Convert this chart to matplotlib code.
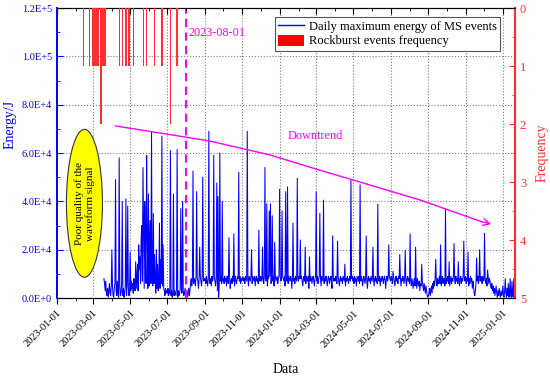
import numpy as np
import pandas as pd
import matplotlib
matplotlib.use("Agg")
import matplotlib.pyplot as plt
import matplotlib.dates as mdates
from matplotlib.patches import Ellipse, Patch
from matplotlib.lines import Line2D
from matplotlib.ticker import MultipleLocator, FuncFormatter

plt.rcParams['font.family'] = ['Liberation Serif', 'DejaVu Serif']

# daily maximum MS energy, kJ (baseline per day, one line per month)
energy_start = "2023-03-19"
energy_kj = [
    8, 6, 3, 7, 2, 1, 4, 0.3, 3, 6, 2, 1, 5,
    2, 5, 1, 0.3, 4, 6, 2, 3, 1, 7, 2, 0.3, 3, 5, 1, 2, 6, 3, 1, 4, 0.3, 2, 5, 3, 1, 6, 2, 4, 1, 3,
    5, 3, 7, 4, 6, 2, 8, 5, 3, 6, 4, 9, 5, 3, 7, 12, 8, 6, 10, 5, 7, 9, 6, 4, 8, 11, 6, 5, 7, 4, 6,
    5, 7, 4, 6, 3, 8, 5, 4, 6, 3, 7, 2, 5, 4, 6, 3, 5, 8, 4, 2, 6, 3, 5, 2, 4, 3, 1, 4, 2, 3,
    2, 4, 1, 3, 2, 5, 1, 3, 0.3, 2, 4, 1, 3, 2, 1, 4, 2, 0.3, 3, 1, 2, 4, 1, 3, 2, 0.3, 3, 1, 2, 4, 2,
    1, 3, 0.3, 2, 4, 1, 3, 6, 8, 5, 7, 9, 6, 8, 7, 5, 9, 6, 8, 7, 4, 8, 6, 9, 7, 5, 8, 6, 9, 7, 8,
    8, 6, 9, 7, 5, 8, 9, 7, 6, 8, 5, 9, 7, 8, 6, 9, 7, 5, 8, 6, 3, 1, 0.3, 6, 8, 7, 9, 6, 8, 7,
    8, 6, 9, 7, 8, 5, 9, 7, 6, 8, 9, 4, 7, 8, 6, 9, 7, 8, 5, 9, 8, 6, 7, 9, 8, 5, 7, 9, 6, 8, 7,
    8, 9, 7, 8, 6, 9, 8, 7, 9, 8, 5, 9, 8, 7, 9, 8, 6, 9, 8, 7, 9, 5, 8, 9, 7, 8, 6, 9, 8, 7,
    9, 8, 7, 9, 8, 6, 9, 8, 9, 7, 8, 5, 9, 8, 7, 9, 8, 6, 9, 8, 7, 9, 5, 8, 9, 7, 8, 9, 6, 8, 9,
    8, 9, 7, 8, 6, 9, 8, 7, 9, 5, 8, 9, 7, 8, 6, 9, 8, 7, 9, 8, 4, 8, 9, 7, 8, 6, 9, 8, 7, 9, 8,
    7, 9, 8, 6, 8, 9, 7, 5, 8, 9, 7, 8, 6, 9, 8, 7, 9, 4, 8, 7, 9, 8, 6, 8, 9, 7, 5, 8, 9,
    8, 7, 9, 6, 8, 9, 7, 8, 5, 9, 8, 7, 9, 6, 8, 7, 9, 8, 5, 7, 9, 8, 6, 8, 9, 7, 4, 8, 9, 7, 8,
    7, 9, 8, 6, 8, 9, 7, 5, 8, 9, 7, 8, 6, 9, 8, 7, 9, 5, 8, 7, 9, 8, 6, 8, 9, 7, 5, 8, 9, 7,
    8, 6, 9, 7, 8, 5, 9, 8, 7, 9, 6, 8, 7, 9, 8, 5, 7, 9, 8, 6, 8, 9, 7, 4, 8, 9, 7, 8, 6, 9, 8,
    7, 9, 8, 5, 8, 9, 7, 8, 6, 9, 8, 7, 9, 5, 8, 7, 9, 8, 6, 8, 9, 7, 4, 8, 9, 7, 8, 6, 9, 8,
    7, 9, 8, 6, 8, 9, 7, 5, 8, 9, 7, 8, 6, 9, 8, 7, 9, 5, 8, 7, 9, 8, 6, 8, 9, 7, 5, 8, 9, 7, 8,
    6, 8, 7, 5, 8, 6, 4, 7, 8, 5, 6, 7, 4, 8, 6, 5, 7, 3, 6, 5, 4, 7, 5, 3, 6, 4, 2, 5, 3, 1, 0.3,
    1, 2, 4, 1, 3, 5, 2, 6, 4, 7, 5, 8, 6, 7, 5, 8, 6, 7, 9, 6, 8, 5, 7, 9, 6, 8, 7, 5, 8, 6,
    8, 7, 9, 6, 8, 5, 7, 9, 6, 8, 7, 9, 5, 8, 6, 9, 7, 8, 6, 9, 7, 5, 8, 9, 6, 8, 7, 9, 6, 8, 7,
    9, 6, 8, 7, 9, 5, 8, 6, 9, 7, 8, 4, 7, 5, 2, 1, 3, 6, 8, 7, 9, 6, 8, 10, 7, 9, 8, 6, 9, 8,
    7, 9, 8, 6, 8, 5, 7, 9, 6, 8, 7, 5, 4, 6, 3, 5, 2, 4, 1, 3, 5, 2, 0.3, 3, 1, 4, 2, 0.3, 3, 1, 2,
    5, 1, 0.3, 3, 8, 2, 0.3, 4, 1, 6, 0.3, 2, 8, 1, 0.3, 7, 2, 0.3, 8,
]

# peaks, kJ
spike_dates = [
    "2023-04-01", "2023-04-07", "2023-04-13", "2023-04-18", "2023-04-24", "2023-04-27",
    "2023-05-01", "2023-05-10", "2023-05-13", "2023-05-15", "2023-05-17", "2023-05-19",
    "2023-05-20", "2023-05-22", "2023-05-23", "2023-05-25", "2023-05-26", "2023-05-28",
    "2023-05-29", "2023-05-31", "2023-06-02", "2023-06-03", "2023-06-05", "2023-06-08",
    "2023-06-10", "2023-06-13", "2023-06-15", "2023-06-18", "2023-06-20", "2023-06-22",
    "2023-06-24", "2023-07-06", "2023-07-11", "2023-07-17", "2023-07-23", "2023-07-26",
    "2023-08-12", "2023-08-18", "2023-08-23", "2023-08-28", "2023-09-07", "2023-09-15",
    "2023-09-20", "2023-09-22", "2023-09-25", "2023-09-29", "2023-10-10", "2023-10-18",
    "2023-10-26", "2023-11-09", "2023-11-16", "2023-11-28", "2023-12-04", "2023-12-08",
    "2023-12-11", "2023-12-15", "2023-12-17", "2023-12-20", "2023-12-24",
    "2024-01-01", "2024-01-05", "2024-01-11", "2024-01-14", "2024-01-23", "2024-01-30",
    "2024-02-04", "2024-02-12", "2024-02-19", "2024-03-01", "2024-03-07", "2024-03-13",
    "2024-03-28", "2024-04-05", "2024-04-17", "2024-04-27", "2024-05-12", "2024-05-22",
    "2024-06-02", "2024-06-10", "2024-06-28", "2024-07-05", "2024-07-16", "2024-07-25",
    "2024-08-02", "2024-08-11", "2024-08-21", "2024-09-13", "2024-09-21", "2024-09-29",
    "2024-10-05", "2024-10-13", "2024-10-20", "2024-10-29", "2024-11-05", "2024-11-19",
    "2024-11-24", "2024-12-02", "2024-12-07",
]
spike_kj = [
    20, 49, 58, 40, 41, 38,
    19, 15, 14, 22, 17, 25,
    30, 54, 28, 40, 18, 59,
    26, 43, 24, 32, 69, 35,
    18, 20, 14, 31, 16, 67,
    22, 61, 43, 61.5, 37, 40,
    52.5, 44, 21, 50, 69, 59,
    47.6, 42, 60, 40, 25, 26.5,
    52, 69, 20, 28, 21, 54,
    39, 36, 39, 34, 23,
    45, 36, 44, 46, 31, 49.5,
    24, 21, 17, 44, 35, 40.5,
    25.7, 23.5, 14, 48.8, 46.8, 25.7,
    21, 38.8, 22, 11, 18, 19.7,
    26.5, 21, 14, 16, 22, 37,
    15, 22.5, 15, 23.5, 19, 16.5,
    20, 26.8, 11.6,
]

# rockburst events
burst_dates = [
    "2023-02-14", "2023-02-23",
    "2023-03-01", "2023-03-02", "2023-03-03", "2023-03-04", "2023-03-05",
    "2023-03-06", "2023-03-07", "2023-03-08", "2023-03-09",
    "2023-03-14", "2023-03-15", "2023-03-16", "2023-03-17", "2023-03-18",
    "2023-03-19", "2023-03-20", "2023-03-21", "2023-03-22",
    "2023-04-13", "2023-04-18", "2023-04-24", "2023-04-29", "2023-05-06",
    "2023-05-23", "2023-05-28", "2023-06-10", "2023-06-22", "2023-07-06", "2023-07-17",
]
burst_freq = [
    1, 1,
    1, 1, 1, 1, 1, 1, 1, 1, 1,
    2, 1, 1, 1, 1, 1, 1, 1, 1,
    1, 1, 1, 1, 1,
    1, 1, 1, 1, 2, 1,
]

# downtrend guide
trend_dates = ["2023-04-07", "2023-09-08", "2023-12-16", "2024-02-28",
               "2024-08-18", "2024-11-27", "2024-12-13"]
trend_kj = [71.2, 65.0, 59.2, 53.5, 40.6, 31.6, 30.6]

BLUE = '#0000ff'
RED = '#ff3030'
MAG = '#ff00ff'

energy = pd.Series(np.array(energy_kj, dtype=float) * 1000,
                   index=pd.date_range(energy_start, periods=len(energy_kj)))
energy.loc[pd.to_datetime(spike_dates)] = np.array(spike_kj) * 1000


def sci_fmt(v, pos):
    if v == 0:
        return '0.0E+0'
    e = int(np.floor(np.log10(abs(v)) + 1e-9))
    return f'{v / 10**e:.1f}E+{e}'


fig = plt.figure(figsize=(5.5, 3.81), dpi=100)
ax = fig.add_axes([0.1036, 0.2178, 0.8328, 0.7612])

ax.plot(energy.index, energy.values, color=BLUE, lw=0.75, zorder=3)
ax.set_xlim(pd.Timestamp('2023-01-01'), pd.Timestamp('2025-01-21'))
ax.set_ylim(0, 1.2e5)

# poor data period
ell = Ellipse((mdates.date2num(pd.Timestamp('2023-02-15')), 39.2e3), width=59, height=61.2e3,
              facecolor='#ffff00', edgecolor='#333333', lw=0.8, zorder=4)
ax.add_patch(ell)
ax.text(pd.Timestamp('2023-02-15'), 39.2e3, 'Poor quality of the\nwaveform signal',
        rotation=90, ha='center', va='center', fontsize=8, linespacing=1.15, zorder=5)

ax.axvline(pd.Timestamp('2023-08-01'), color=MAG, ls=(0, (4, 2.5)), lw=1.5, zorder=4)
ax.text(pd.Timestamp('2023-08-05'), 1.097e5, '2023-08-01', color=MAG, fontsize=8.8, va='center')

td = pd.to_datetime(trend_dates)
ax.plot(td[:-1], np.array(trend_kj[:-1]) * 1000, color=MAG, lw=1, zorder=4)
ax.annotate('', xy=(td[-1], trend_kj[-1] * 1000), xytext=(td[-2], trend_kj[-2] * 1000),
            arrowprops=dict(arrowstyle='->', color=MAG, lw=1, mutation_scale=12,
                            shrinkA=0, shrinkB=0), zorder=4)
ax.text(pd.Timestamp('2024-01-14'), 6.7e4, 'Downtrend', color=MAG, fontsize=8.8, va='center')

ax.xaxis.set_major_locator(mdates.MonthLocator(bymonth=[1, 3, 5, 7, 9, 11]))
ax.xaxis.set_minor_locator(mdates.MonthLocator())
ax.xaxis.set_major_formatter(mdates.DateFormatter('%Y-%m-%d'))
ax.tick_params(axis='x', which='major', direction='out', length=4, labelsize=7.5)
ax.tick_params(axis='x', which='minor', direction='out', length=2)
plt.setp(ax.get_xticklabels(), rotation=45, ha='right', rotation_mode='anchor')

ax.yaxis.set_major_locator(MultipleLocator(2e4))
ax.yaxis.set_minor_locator(MultipleLocator(1e4))
ax.yaxis.set_major_formatter(FuncFormatter(sci_fmt))
ax.tick_params(axis='y', which='both', direction='in', colors=BLUE, labelsize=7.5)
ax.tick_params(axis='y', which='major', length=4)
ax.tick_params(axis='y', which='minor', length=2)

ax.grid(True, which='major', ls=':', color='#808080', lw=0.8)
ax.set_ylabel('Energy/J', color=BLUE, fontsize=10)
ax.yaxis.set_label_coords(-0.088, 0.6)
ax.set_xlabel('Data', fontsize=10)
ax.xaxis.set_label_coords(0.5, -0.225)

ax2 = ax.twinx()
ax2.bar(pd.to_datetime(burst_dates), burst_freq, width=2.2, color=RED, linewidth=0, zorder=3)
ax2.set_ylim(5, 0)
ax2.yaxis.set_major_locator(MultipleLocator(1))
ax2.yaxis.set_minor_locator(MultipleLocator(0.5))
ax2.tick_params(axis='y', which='both', direction='in', colors=RED, labelsize=9)
ax2.tick_params(axis='y', which='major', length=4)
ax2.tick_params(axis='y', which='minor', length=2)
ax2.set_ylabel('Frequency', color=RED, fontsize=10)
ax2.yaxis.set_label_coords(1.044, 0.5)

# ticks along the top edge
ax2.xaxis.set_visible(True)
ax2.tick_params(axis='x', which='both', bottom=False, top=True, labelbottom=False,
                labeltop=False, direction='in')
ax2.tick_params(axis='x', which='major', length=4)
ax2.tick_params(axis='x', which='minor', length=2)

for a in (ax, ax2):
    a.spines['left'].set_color(BLUE)
    a.spines['left'].set_linewidth(1.2)
    a.spines['right'].set_color(RED)
    a.spines['right'].set_linewidth(1.5)

handles = [Line2D([], [], color=BLUE, lw=1), Patch(facecolor='#ff0000', lw=0)]
labels = ['Daily maximum energy of MS events', 'Rockburst events frequency']
leg = ax2.legend(handles, labels, loc='upper right', bbox_to_anchor=(0.967, 0.97),
                 fontsize=9, fancybox=False, edgecolor='#555555', framealpha=1,
                 borderaxespad=0, handlelength=2.1, handleheight=1.0, borderpad=0.25,
                 labelspacing=0.15, handletextpad=0.35)
leg.get_frame().set_linewidth(0.8)

fig.savefig('out.png', dpi=100)
